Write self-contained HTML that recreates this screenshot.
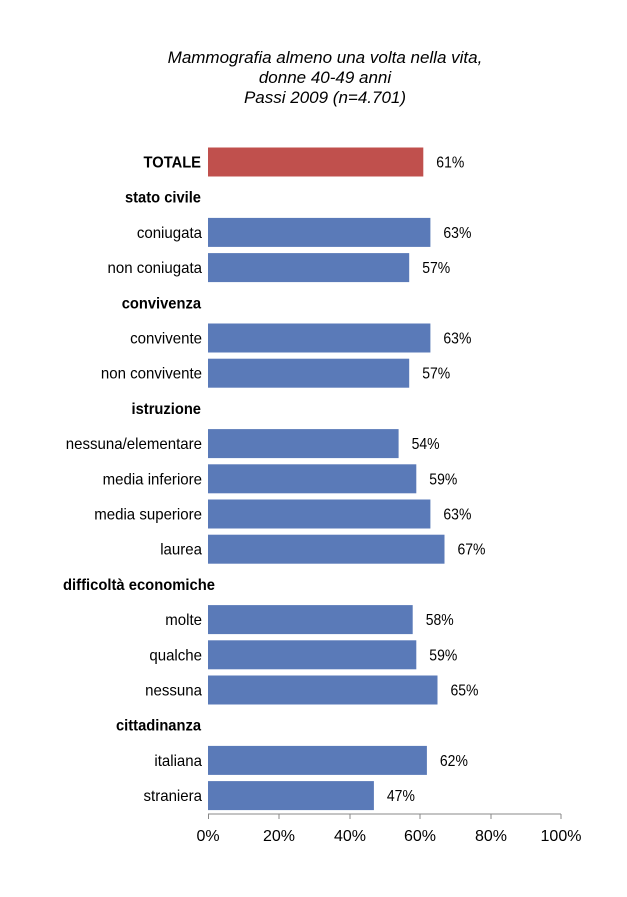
<!DOCTYPE html>
<html><head><meta charset="utf-8"><style>
html,body{margin:0;padding:0;background:#fff}
svg{display:block}
text{font-family:"Liberation Sans Narrow","Liberation Sans",sans-serif;font-size:16px;fill:#000}
.t{font-family:"Liberation Sans",sans-serif;font-style:italic;font-size:17px}
.b{font-weight:bold}
</style></head><body>
<svg width="627" height="897" xmlns="http://www.w3.org/2000/svg">
<text class="t" x="325" y="63" text-anchor="middle">Mammografia almeno una volta nella vita,</text>
<text class="t" x="325" y="83" text-anchor="middle">donne 40-49 anni</text>
<text class="t" x="325" y="103" text-anchor="middle">Passi 2009 (n=4.701)</text>
<g fill="#5a7ab8">
<rect x="208" y="147.5" width="215.3" height="29" fill="#c0504d"/>
<rect x="208" y="217.9" width="222.4" height="29"/>
<rect x="208" y="253.1" width="201.2" height="29"/>
<rect x="208" y="323.5" width="222.4" height="29"/>
<rect x="208" y="358.7" width="201.2" height="29"/>
<rect x="208" y="429.1" width="190.6" height="29"/>
<rect x="208" y="464.3" width="208.3" height="29"/>
<rect x="208" y="499.5" width="222.4" height="29"/>
<rect x="208" y="534.7" width="236.5" height="29"/>
<rect x="208" y="605.1" width="204.7" height="29"/>
<rect x="208" y="640.3" width="208.3" height="29"/>
<rect x="208" y="675.5" width="229.5" height="29"/>
<rect x="208" y="745.9" width="218.9" height="29"/>
<rect x="208" y="781.1" width="165.9" height="29"/>
</g>
<g text-anchor="end" transform="translate(201 0) scale(0.92 1)" class="b">
<text x="0" y="167.5">TOTALE</text>
<text x="0" y="202.7">stato civile</text>
<text x="0" y="308.3">convivenza</text>
<text x="0" y="413.9">istruzione</text>
<text x="0" y="730.7">cittadinanza</text>
</g>
<text class="b" x="63" y="589.9" textLength="152" lengthAdjust="spacingAndGlyphs">difficoltà economiche</text>
<g text-anchor="end" transform="translate(202 0) scale(0.94 1)">
<text x="0" y="237.9">coniugata</text>
<text x="0" y="273.1">non coniugata</text>
<text x="0" y="343.5">convivente</text>
<text x="0" y="378.7">non convivente</text>
<text x="0" y="449.1">nessuna/elementare</text>
<text x="0" y="484.3">media inferiore</text>
<text x="0" y="519.5">media superiore</text>
<text x="0" y="554.7">laurea</text>
<text x="0" y="625.1">molte</text>
<text x="0" y="660.3">qualche</text>
<text x="0" y="695.5">nessuna</text>
<text x="0" y="765.9">italiana</text>
<text x="0" y="801.1">straniera</text>
</g>
<g>
<text x="436.3" y="167.5" textLength="28" lengthAdjust="spacingAndGlyphs">61%</text>
<text x="443.4" y="237.9" textLength="28" lengthAdjust="spacingAndGlyphs">63%</text>
<text x="422.2" y="273.1" textLength="28" lengthAdjust="spacingAndGlyphs">57%</text>
<text x="443.4" y="343.5" textLength="28" lengthAdjust="spacingAndGlyphs">63%</text>
<text x="422.2" y="378.7" textLength="28" lengthAdjust="spacingAndGlyphs">57%</text>
<text x="411.6" y="449.1" textLength="28" lengthAdjust="spacingAndGlyphs">54%</text>
<text x="429.3" y="484.3" textLength="28" lengthAdjust="spacingAndGlyphs">59%</text>
<text x="443.4" y="519.5" textLength="28" lengthAdjust="spacingAndGlyphs">63%</text>
<text x="457.5" y="554.7" textLength="28" lengthAdjust="spacingAndGlyphs">67%</text>
<text x="425.7" y="625.1" textLength="28" lengthAdjust="spacingAndGlyphs">58%</text>
<text x="429.3" y="660.3" textLength="28" lengthAdjust="spacingAndGlyphs">59%</text>
<text x="450.5" y="695.5" textLength="28" lengthAdjust="spacingAndGlyphs">65%</text>
<text x="439.9" y="765.9" textLength="28" lengthAdjust="spacingAndGlyphs">62%</text>
<text x="386.9" y="801.1" textLength="28" lengthAdjust="spacingAndGlyphs">47%</text>
</g>
<line x1="208" y1="814" x2="561" y2="814" stroke="#888" stroke-width="1"/>
<g stroke="#888">
<line x1="208.5" y1="814" x2="208.5" y2="819"/><line x1="279" y1="814" x2="279" y2="819"/><line x1="350" y1="814" x2="350" y2="819"/><line x1="420" y1="814" x2="420" y2="819"/><line x1="491" y1="814" x2="491" y2="819"/><line x1="561" y1="814" x2="561" y2="819"/>
</g>
<g text-anchor="middle">
<text x="208" y="841">0%</text><text x="279" y="841">20%</text><text x="350" y="841">40%</text><text x="420" y="841">60%</text><text x="491" y="841">80%</text><text x="561" y="841">100%</text>
</g>
</svg>
</body></html>
